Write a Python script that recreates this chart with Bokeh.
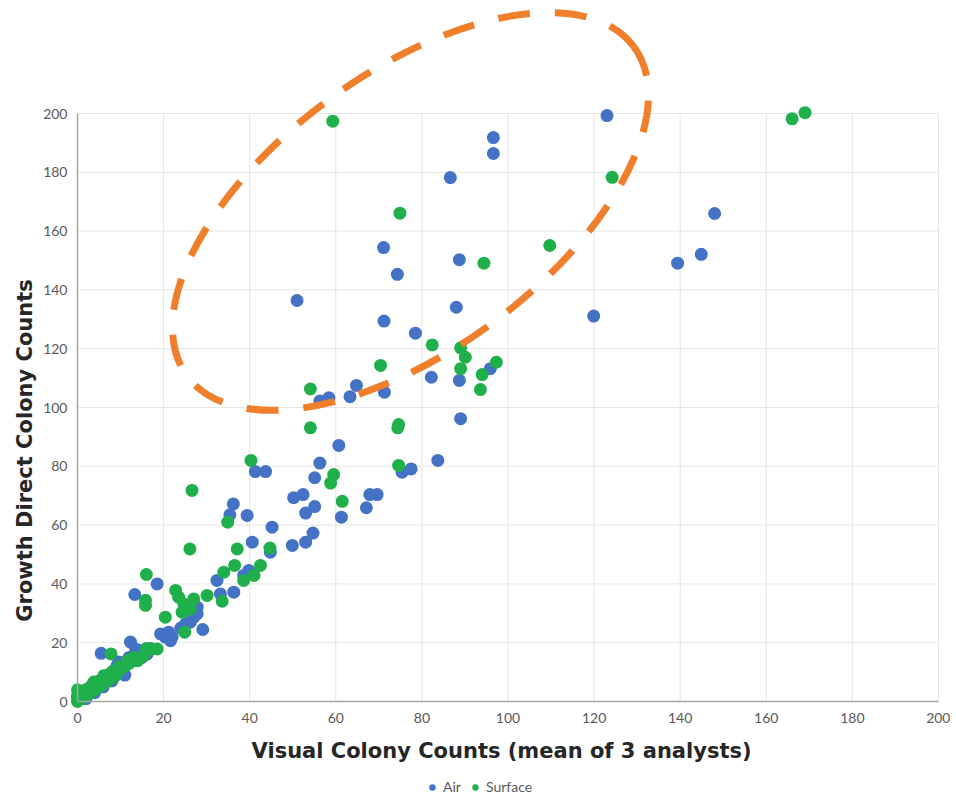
import math
from bokeh.plotting import figure
from bokeh.models import FixedTicker, Legend, LegendItem, Range1d, Label, LinearAxis
from bokeh.embed import file_html
from bokeh.resources import INLINE

# ---------------- data ----------------
air_x = [123.0, 96.6, 96.6, 86.6, 148.0, 71.1, 88.7, 74.3, 144.9, 139.4, 51.0, 88.0, 119.9, 71.2, 78.5,
         82.2, 88.7, 89.0, 95.9, 64.8, 63.3, 71.3, 58.4, 56.3, 60.7, 56.3, 55.1, 50.2, 52.4, 53.0,
         55.1, 61.3, 67.1, 67.9, 69.6, 75.4, 77.5, 83.7,
         41.3, 43.7, 39.4, 45.2, 54.7, 53.0, 49.9, 40.6, 44.8,
         36.2, 35.4, 18.5, 32.4, 38.6, 39.8, 36.3, 33.2, 27.8, 27.0, 13.3, 29.1, 27.8, 26.2, 25.1,
         5.5, 12.3, 13.5, 16.2, 19.3, 20.4, 21.6, 21.2, 9.2, 14.6, 8.4, 10.4, 13.9, 9.6,
         2.0, 4.0, 6.0, 8.0, 11.0, 12.0, 15.0, 17.0, 22.0, 24.0]
air_y = [199.3, 191.8, 186.4, 178.2, 166.0, 154.4, 150.3, 145.3, 152.1, 149.1, 136.4, 134.1, 131.1, 129.4, 125.3,
         110.3, 109.2, 96.2, 113.2, 107.5, 103.7, 105.2, 103.3, 102.2, 87.1, 81.1, 76.1, 69.3, 70.4, 64.1,
         66.3, 62.7, 65.9, 70.4, 70.4, 78.0, 79.1, 82.0,
         78.2, 78.2, 63.3, 59.3, 57.3, 54.2, 53.1, 54.2, 50.8,
         67.2, 63.5, 40.0, 41.2, 42.9, 44.6, 37.2, 36.6, 32.1, 28.7, 36.4, 24.5, 29.8, 27.0, 26.4,
         16.4, 20.2, 17.9, 16.2, 23.0, 21.9, 20.7, 23.6, 12.2, 17.3, 10.5, 10.5, 13.9, 13.4,
         1.0, 3.0, 5.0, 7.0, 9.0, 15.0, 15.0, 18.0, 22.0, 25.0]

surface_x = [59.3, 166.0, 169.0, 124.2, 74.9, 109.7, 94.4,
             54.1, 54.1, 70.4, 82.4, 89.0, 90.1, 89.0, 94.0, 93.6, 97.3, 74.6, 74.4, 74.6, 59.5, 58.8, 61.5,
             40.3, 44.7, 26.6, 34.9, 26.1, 37.1, 42.5, 41.0, 38.6, 36.5, 34.0, 33.6, 30.1, 16.0, 15.8, 15.8,
             22.8, 23.5, 27.0, 24.7, 26.2, 20.4, 24.3,
             7.8, 17.0, 18.5, 24.9,
             0.0, 0.0, 0.0, 0.0, 1.0, 1.0, 1.5, 2.0, 2.0, 3.0, 3.0, 3.8, 4.0, 4.0, 5.0, 5.0, 6.0, 6.1, 6.0,
             7.0, 7.0, 8.0, 8.0, 9.0, 9.6, 10.0, 11.0, 11.5, 12.0, 13.0, 15.4, 14.0, 16.0]
surface_y = [197.4, 198.2, 200.3, 178.3, 166.1, 155.1, 149.1,
             106.3, 93.1, 114.3, 121.3, 120.3, 117.1, 113.2, 111.2, 106.1, 115.4, 94.2, 93.1, 80.3, 77.2, 74.3, 68.1,
             82.0, 52.2, 71.8, 61.0, 51.9, 51.9, 46.3, 42.9, 41.2, 46.3, 44.0, 34.1, 36.1, 43.2, 34.4, 32.7,
             37.8, 35.5, 34.9, 33.2, 31.5, 28.7, 30.4,
             16.2, 17.9, 17.9, 23.6,
             0.0, 1.0, 2.0, 4.0, 1.0, 3.0, 3.7, 2.0, 4.0, 3.0, 5.0, 6.6, 4.0, 6.0, 5.0, 7.0, 6.0, 8.8, 8.0,
             7.0, 9.0, 8.0, 10.0, 9.0, 11.7, 11.0, 12.0, 13.9, 13.0, 15.0, 15.6, 14.0, 18.0]

tick_values = [0, 20, 40, 60, 80, 100, 120, 140, 160, 180, 200]
axis_min = 0
axis_max = 200

x_title = "Visual Colony Counts (mean of 3 analysts)"
y_title = "Growth Direct Colony Counts"

# highlight ellipse (annotation)
ell_cx = [77.35]
ell_cy = [166.7]
ell_w = [555]
ell_h = [277]
ell_angle = [math.radians(36.4)]

BLUE = "#4472C4"
GREEN = "#1FB04B"
ORANGE = "#F07F2C"
GRID = "#e6e6e6"
FONT = "Lato"
TITLE_FONT = "DejaVu Sans"

# the frame covers the whole canvas; axes are pinned at 0
p = figure(width=950, height=796,
           x_range=Range1d(-17.886, 202.79), y_range=Range1d(-32.31, 238.44),
           x_axis_location=None, y_axis_location=None,
           output_backend="svg", toolbar_location=None,
           min_border_left=0, min_border_right=0, min_border_top=0, min_border_bottom=0)
p.outline_line_color = None
p.background_fill_color = "white"
p.grid.visible = False

# gridlines limited to the 0..200 data square
n = len(tick_values)
p.segment(x0=tick_values, y0=[axis_min] * n, x1=tick_values, y1=[axis_max] * n,
          line_color=GRID, line_width=1)
p.segment(x0=[axis_min] * n, y0=tick_values, x1=[axis_max] * n, y1=tick_values,
          line_color=GRID, line_width=1)

r_air = p.scatter(air_x, air_y, size=13, fill_color=BLUE, line_color=None)
r_surf = p.scatter(surface_x, surface_y, size=13, fill_color=GREEN, line_color=None)

p.ellipse(x=ell_cx, y=ell_cy, width=ell_w, height=ell_h, angle=ell_angle,
          width_units="screen", height_units="screen",
          fill_color=None, line_color=ORANGE, line_width=7, line_dash="32 25")

xax = LinearAxis(fixed_location=0)
yax = LinearAxis(fixed_location=0)
for ax in (xax, yax):
    ax.ticker = FixedTicker(ticks=tick_values)
    ax.bounds = (axis_min, axis_max)
    ax.axis_line_color = "#a6a6a6"
    ax.axis_line_width = 1.5
    ax.major_tick_line_color = None
    ax.major_tick_out = 0
    ax.major_tick_in = 0
    ax.minor_tick_line_color = None
    ax.major_label_text_font = FONT
    ax.major_label_text_font_size = "14px"
    ax.major_label_text_color = "#595959"
xax.major_label_standoff = 11
yax.major_label_standoff = 10
p.add_layout(xax, "below")
p.add_layout(yax, "left")

xlab = Label(x=98.5, y=-16.7, x_units="data", y_units="data", text=x_title,
             text_align="center", text_baseline="middle",
             text_font=TITLE_FONT, text_font_style="bold", text_font_size="21px",
             text_color="#262626")
ylab = Label(x=-12.3, y=85.4, x_units="data", y_units="data", text=y_title,
             angle=math.pi / 2, text_align="center", text_baseline="middle",
             text_font=TITLE_FONT, text_font_style="bold", text_font_size="21px",
             text_color="#262626")
p.add_layout(xlab)
p.add_layout(ylab)

legend = Legend(items=[LegendItem(label="Air", renderers=[r_air]),
                       LegendItem(label="Surface", renderers=[r_surf])],
                orientation="horizontal", location=(423, 1),
                glyph_width=18, glyph_height=16, label_standoff=2, spacing=3,
                padding=0, margin=0, border_line_color=None,
                label_text_font=FONT, label_text_font_size="14px",
                label_text_color="#595959", background_fill_alpha=0)
p.add_layout(legend)

open("out.html", "w").write(file_html(p, INLINE))
